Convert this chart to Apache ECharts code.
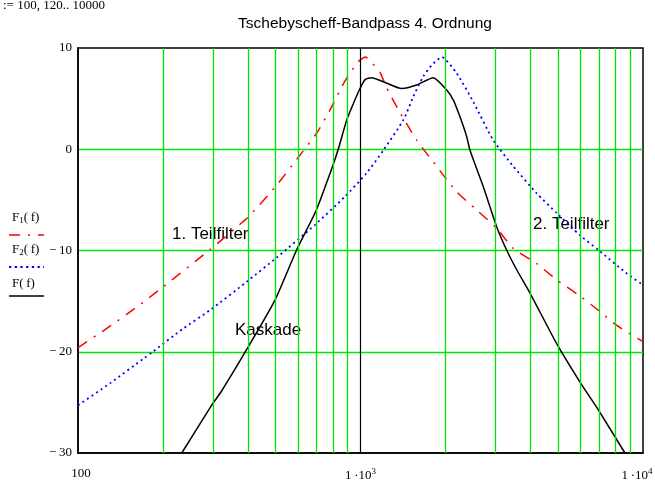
<!DOCTYPE html>
<html>
<head>
<meta charset="utf-8">
<script src="https://cdn.jsdelivr.net/npm/echarts/dist/echarts.min.js"></script>
<style>
  html, body { margin: 0; padding: 0; background: #fff; }
  #chart { width: 655px; height: 488px; }
</style>
</head>
<body>
<div id="chart"></div>
<script>
// Frequency axis range (Hz) and gain axis range (dB)
const xMin = 100, xMax = 10000;
const yMin = -30, yMax = 10, yStep = 10;

// Tick labels on the frequency axis
const xTickValues = [100, 1000, 10000];
const xTickLabels = ['100', '1\u2009·10^3', '1\u2009·10^4'];

// Vertical grid lines (green) and the marked line at 1 kHz (black)
const xGridValues = [200, 300, 400, 500, 600, 700, 800, 900,
                     2000, 3000, 4000, 5000, 6000, 7000, 8000, 9000];
const xMarkValue = 1000;

// 1. Teilfilter  F1(f)
const f1Freq = [100, 131, 163, 200, 292, 400, 500, 602, 700, 791, 846, 893, 982, 1040,
                1100, 1173, 1235, 1307, 1374, 1480, 1580, 1861, 2190, 2578, 3034, 3476,
                4205, 4948, 5984, 6950, 8075, 10000];
const f1Gain = [-19.6, -17.4, -15.5, -13.6, -9.95, -6.7, -3.7, -0.8, 1.6, 4.2, 5.85, 7.0, 8.65, 9.1,
                8.5, 7.6, 6.1, 4.8, 3.7, 2.2, 0.9, -1.7, -4.2, -6.0, -7.8, -9.8,
                -11.3, -12.9, -14.5, -15.9, -17.4, -19.0];

// 2. Teilfilter  F2(f)
const f2Freq = [100, 130, 172, 182, 236, 293, 395, 510, 688, 879, 1048, 1205, 1419, 1538,
                1668, 1787, 1940, 2190, 2506, 2950, 3476, 4205, 4948, 5984, 6950, 8740, 10000];
const f2Gain = [-25.3, -23.1, -20.6, -20.1, -17.7, -15.9, -13.1, -10.6, -7.5, -4.7, -2.4, -0.1, 2.9, 5.2,
                7.2, 8.3, 9.1, 7.5, 4.7, 0.9, -1.7, -4.35, -6.3, -8.5, -9.95, -12.25, -13.4];

// Kaskade  F(f)
const fFreq = [233, 297, 322, 395, 498, 594, 698, 788, 832, 894, 943, 1000, 1040, 1095,
               1205, 1399, 1580, 1810, 2018, 2132, 2250, 2376, 2441, 2721, 3034, 3290,
               3572, 3981, 4948, 5984, 6950, 8630];
const fGain = [-30, -25.3, -23.9, -19.8, -14.9, -9.95, -6.0, -2.05, -0.1, 2.9, 4.5, 6.1, 6.9, 7.07,
               6.67, 6.0, 6.35, 7.07, 5.85, 4.86, 3.2, 1.24, -0.1, -3.7, -7.65, -9.95,
               -11.9, -14.2, -19.2, -23.0, -25.75, -30];

const pairs = (xs, ys) => xs.map((x, i) => [x, ys[i]]);

const serif = 'Liberation Serif';
const sans = 'Liberation Sans';
const gridGreen = '#00e600';

const chart = echarts.init(document.getElementById('chart'), null, { renderer: 'canvas' });

chart.setOption({
  animation: false,
  backgroundColor: '#fff',
  title: {
    text: 'Tschebyscheff-Bandpass 4. Ordnung',
    left: 360, top: 11, textAlign: 'center',
    textStyle: { fontFamily: sans, fontSize: 15.5, fontWeight: 'normal', color: '#000' }
  },
  grid: {
    left: 78, right: 12, top: 48, bottom: 35,
    outerBoundsMode: 'none', containLabel: false,
    show: true, borderColor: '#000', borderWidth: 1.5, backgroundColor: 'transparent'
  },
  xAxis: {
    type: 'log', logBase: 10, min: xMin, max: xMax,
    name: 'f', nameLocation: 'middle', nameGap: 35,
    nameTextStyle: { fontFamily: serif, fontSize: 13, color: '#000' },
    axisLine: { show: true, onZero: false, lineStyle: { color: '#000', width: 1.5 } },
    axisTick: { show: false },
    splitLine: { show: false },
    axisLabel: {
      margin: 14,
      fontFamily: serif, fontSize: 13, color: '#000',
      formatter: (v, idx) => {
        const i = xTickValues.findIndex(t => Math.abs(t - v) < 1e-6 * t);
        if (i < 0) return '';
        const txt = xTickLabels[i].replace(/\^(\d+)/, '{s|$1}');
        // nudge the first label right and the last one left so both stay in view
        if (i === 0) return '{gap|}' + txt;
        if (i === xTickValues.length - 1) return txt + '{gapR|}';
        return txt;
      },
      rich: {
        s: { fontFamily: serif, fontSize: 9, color: '#000', padding: [0, 0, 9, 0] },
        gap: { width: 6 },
        gapR: { width: 12 }
      }
    }
  },
  yAxis: {
    type: 'value', min: yMin, max: yMax, interval: yStep,
    axisLine: { show: true, onZero: false, lineStyle: { color: '#000', width: 1.5 } },
    axisTick: { show: false },
    splitLine: { show: true, showMinLine: false, showMaxLine: false,
                 lineStyle: { color: gridGreen, width: 1.3 } },
    axisLabel: {
      margin: 6,
      fontFamily: serif, fontSize: 13, color: '#000',
      formatter: v => (v < 0 ? '\u2212\u2009' + Math.abs(v) : String(v))
    }
  },
  series: [
    {
      // grid lines of the frequency axis
      type: 'line', data: [], z: 1, silent: true,
      markLine: {
        silent: true, symbol: 'none', animation: false,
        label: { show: false },
        lineStyle: { color: gridGreen, width: 1.3, type: 'solid' },
        data: xGridValues.map(v => ({ xAxis: v }))
          .concat([{ xAxis: xMarkValue, lineStyle: { color: '#000', width: 1.2 } }])
      }
    },
    {
      name: 'F1(f)', type: 'line', data: pairs(f1Freq, f1Gain), z: 3,
      showSymbol: false, smooth: 0.2, clip: true,
      lineStyle: { color: '#ff0000', width: 1.5, type: [11, 8, 2, 8] }
    },
    {
      name: 'F2(f)', type: 'line', data: pairs(f2Freq, f2Gain), z: 3,
      showSymbol: false, smooth: 0.2, clip: true,
      lineStyle: { color: '#0000ff', width: 1.8, type: [2, 3.5] }
    },
    {
      name: 'F(f)', type: 'line', data: pairs(fFreq, fGain), z: 4,
      showSymbol: false, smooth: 0.2, clip: true,
      lineStyle: { color: '#000', width: 1.5, type: 'solid' }
    }
  ],
  graphic: [
    // range definition of the frequency variable
    { type: 'text', left: 3, top: -1,
      style: { text: ':= 100, 120.. 10000', font: '13px "Liberation Serif"', fill: '#000' } },
    // curve annotations
    { type: 'text', left: 172, top: 226,
      style: { text: '1. Teilfilter', font: '17px "Liberation Sans"', fill: '#000' } },
    { type: 'text', left: 533, top: 216,
      style: { text: '2. Teilfilter', font: '17px "Liberation Sans"', fill: '#000' } },
    { type: 'text', left: 235, top: 322,
      style: { text: 'Kaskade', font: '17px "Liberation Sans"', fill: '#000' } },
    // legend
    { type: 'text', left: 12, top: 211,
      style: { text: '{n|F}{s|1}{n|(\u2009f)}',
               rich: { n: { fontFamily: serif, fontSize: 13, fill: '#000' },
                       s: { fontFamily: serif, fontSize: 9, fill: '#000', padding: [6, 0, 0, 0] } } } },
    { type: 'line', shape: { x1: 9, y1: 235, x2: 44, y2: 235 },
      style: { stroke: '#ff0000', lineWidth: 1.5, lineDash: [11, 8, 2, 8] } },
    { type: 'text', left: 12, top: 243,
      style: { text: '{n|F}{s|2}{n|(\u2009f)}',
               rich: { n: { fontFamily: serif, fontSize: 13, fill: '#000' },
                       s: { fontFamily: serif, fontSize: 9, fill: '#000', padding: [6, 0, 0, 0] } } } },
    { type: 'line', shape: { x1: 9, y1: 267, x2: 44, y2: 267 },
      style: { stroke: '#0000ff', lineWidth: 1.8, lineDash: [2.3, 3.4] } },
    { type: 'text', left: 12, top: 277,
      style: { text: 'F(\u2009f)', font: '13px "Liberation Serif"', fill: '#000' } },
    { type: 'line', shape: { x1: 9, y1: 296, x2: 44, y2: 296 },
      style: { stroke: '#000', lineWidth: 1.5 } }
  ]
});
</script>
</body>
</html>
